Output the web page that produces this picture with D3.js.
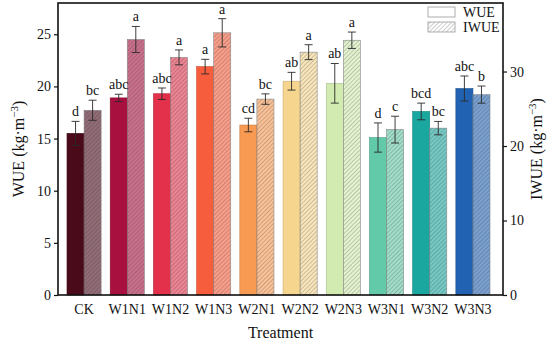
<!DOCTYPE html>
<html>
<head>
<meta charset="utf-8">
<script src="https://cdn.jsdelivr.net/npm/d3@7"></script>
<style>
  body { margin: 0; background: #fff; }
  svg text { font-family: "Liberation Serif", "Times New Roman", serif; fill: #111; }
</style>
</head>
<body>
<div class="chart"></div>
<script>
// data
var treatments = ["CK", "W1N1", "W1N2", "W1N3", "W2N1", "W2N2", "W2N3", "W3N1", "W3N2", "W3N3"];
var wue = [15.5, 18.9, 19.3, 21.9, 16.3, 20.5, 20.3, 15.1, 17.6, 19.8];
var wueErr = [1.15, 0.35, 0.55, 0.7, 0.65, 0.85, 1.9, 1.4, 0.8, 1.2];
var iwue = [24.8, 34.3, 31.9, 35.2, 26.3, 32.6, 34.2, 22.2, 22.4, 26.9];
var iwueErr = [1.35, 1.75, 1.0, 1.9, 0.7, 1.0, 1.1, 1.8, 0.9, 1.15];
var wueLetters = ["d", "abc", "abc", "a", "cd", "ab", "ab", "d", "bcd", "abc"];
var iwueLetters = ["bc", "a", "a", "a", "bc", "a", "a", "c", "bc", "b"];
var leftTicks = [0, 5, 10, 15, 20, 25];
var rightTicks = [0, 10, 20, 30];
var colors = ["#4a0a1a", "#a8103f", "#e3304b", "#f65d3c", "#f99a52", "#f6d68e",
              "#d2ebb1", "#62c9a9", "#19a7a0", "#2163b2"];

document.addEventListener("DOMContentLoaded", function () {
    //Width and height
    var w = 550;
    var h = 343;
    var pLeft = 58, pRight = 503, pTop = 3, pBottom = 295;

    var svg = d3.select(".chart")
        .append("svg")
        .attr("width", w)
        .attr("height", h);

    // hatch pattern for IWUE bars
    var defs = svg.append("defs");
    defs.append("pattern")
        .attr("id", "hatch")
        .attr("patternUnits", "userSpaceOnUse")
        .attr("width", 3)
        .attr("height", 3)
        .attr("patternTransform", "rotate(45)")
        .append("line")
        .attr("x1", 0).attr("y1", 0)
        .attr("x2", 0).attr("y2", 3)
        .attr("stroke", "#333")
        .attr("stroke-opacity", 0.6)
        .attr("stroke-width", 0.8);

    // scales
    var x = d3.scaleBand()
        .domain(treatments)
        .range([67, 490])
        .paddingInner(0.21)
        .paddingOuter(0);

    var y = d3.scaleLinear().domain([0, 28]).range([pBottom, pTop]);
    var y2 = d3.scaleLinear().domain([0, 39.2]).range([pBottom, pTop]);

    var bw = x.bandwidth() / 2;

    var groups = svg.selectAll("g.grp")
        .data(treatments)
        .enter()
        .append("g")
        .attr("class", "grp");

    // WUE bars
    groups.append("rect")
        .attr("x", function (d) { return x(d); })
        .attr("y", function (d, i) { return y(wue[i]); })
        .attr("width", bw)
        .attr("height", function (d, i) { return pBottom - y(wue[i]); })
        .attr("fill", function (d, i) { return colors[i]; })
        .attr("stroke", function (d, i) { return d3.color(colors[i]).darker(0.6); })
        .attr("stroke-width", 0.6);

    // IWUE bars
    groups.append("rect")
        .attr("x", function (d) { return x(d) + bw; })
        .attr("y", function (d, i) { return y2(iwue[i]); })
        .attr("width", bw)
        .attr("height", function (d, i) { return pBottom - y2(iwue[i]); })
        .attr("fill", function (d, i) { return colors[i]; })
        .attr("fill-opacity", 0.6);

    groups.append("rect")
        .attr("x", function (d) { return x(d) + bw; })
        .attr("y", function (d, i) { return y2(iwue[i]); })
        .attr("width", bw)
        .attr("height", function (d, i) { return pBottom - y2(iwue[i]); })
        .attr("fill", "url(#hatch)")
        .attr("stroke", "#888")
        .attr("stroke-width", 0.6);

    // error bars
    function errBar(g, cx, yTop, yBot) {
        g.append("line").attr("x1", cx).attr("x2", cx).attr("y1", yTop).attr("y2", yBot);
        g.append("line").attr("x1", cx - 4).attr("x2", cx + 4).attr("y1", yTop).attr("y2", yTop);
        g.append("line").attr("x1", cx - 4).attr("x2", cx + 4).attr("y1", yBot).attr("y2", yBot);
    }

    var errG = svg.append("g")
        .attr("stroke", "#2a2a2a")
        .attr("stroke-width", 0.9);

    treatments.forEach(function (d, i) {
        var c1 = x(d) + bw / 2;
        var c2 = x(d) + bw * 1.5;
        errBar(errG, c1, y(wue[i] + wueErr[i]), y(wue[i] - wueErr[i]));
        errBar(errG, c2, y2(iwue[i] + iwueErr[i]), y2(iwue[i] - iwueErr[i]));
    });

    // significance letters
    groups.append("text")
        .attr("x", function (d) { return x(d) + bw / 2; })
        .attr("y", function (d, i) { return y(wue[i] + wueErr[i]) - 5; })
        .attr("text-anchor", "middle")
        .attr("font-size", 14)
        .text(function (d, i) { return wueLetters[i]; });

    groups.append("text")
        .attr("x", function (d) { return x(d) + bw * 1.5; })
        .attr("y", function (d, i) { return y2(iwue[i] + iwueErr[i]) - 5; })
        .attr("text-anchor", "middle")
        .attr("font-size", 14)
        .text(function (d, i) { return iwueLetters[i]; });

    // axes
    var yAxis = svg.append("g")
        .attr("transform", "translate(" + pLeft + ",0)")
        .call(d3.axisLeft(y).tickValues(leftTicks).tickSize(4).tickPadding(3));
    var y2Axis = svg.append("g")
        .attr("transform", "translate(" + pRight + ",0)")
        .call(d3.axisRight(y2).tickValues(rightTicks).tickSize(4).tickPadding(3));
    [yAxis, y2Axis].forEach(function (a) {
        a.select(".domain").remove();
        a.selectAll("text").attr("font-size", 14).attr("font-family", "Liberation Serif");
        a.selectAll("line").attr("stroke", "#111").attr("stroke-width", 1.2);
    });

    svg.append("g")
        .selectAll("text")
        .data(treatments)
        .enter()
        .append("text")
        .attr("x", function (d) { return x(d) + x.bandwidth() / 2; })
        .attr("y", pBottom + 19)
        .attr("text-anchor", "middle")
        .attr("font-size", 14)
        .text(function (d) { return d; });

    // frame
    svg.append("rect")
        .attr("x", pLeft)
        .attr("y", pTop)
        .attr("width", pRight - pLeft)
        .attr("height", pBottom - pTop)
        .attr("fill", "none")
        .attr("stroke", "#111")
        .attr("stroke-width", 1.6);

    // axis titles
    svg.append("text")
        .attr("transform", "translate(24," + ((pTop + pBottom) / 2) + ") rotate(-90)")
        .attr("text-anchor", "middle")
        .attr("font-size", 16)
        .html("WUE (kg·m<tspan dy='-6' font-size='11'>−3</tspan><tspan dy='6'>)</tspan>");

    svg.append("text")
        .attr("transform", "translate(542," + ((pTop + pBottom) / 2) + ") rotate(-90)")
        .attr("text-anchor", "middle")
        .attr("font-size", 16)
        .html("IWUE (kg·m<tspan dy='-6' font-size='11'>−3</tspan><tspan dy='6'>)</tspan>");

    svg.append("text")
        .attr("x", (pLeft + pRight) / 2)
        .attr("y", 338)
        .attr("text-anchor", "middle")
        .attr("font-size", 16)
        .text("Treatment");

    // legend
    var legend = svg.append("g").attr("transform", "translate(428,7)");
    legend.append("rect")
        .attr("x", 0).attr("y", 0).attr("width", 27).attr("height", 10)
        .attr("fill", "#fff").attr("stroke", "#999").attr("stroke-width", 0.8);
    legend.append("rect")
        .attr("x", 0).attr("y", 15).attr("width", 27).attr("height", 10)
        .attr("fill", "url(#hatch)").attr("stroke", "#999").attr("stroke-width", 0.8);
    legend.append("text").attr("x", 35).attr("y", 10).attr("font-size", 14).text("WUE");
    legend.append("text").attr("x", 35).attr("y", 25).attr("font-size", 14).text("IWUE");
});
</script>
</body>
</html>
